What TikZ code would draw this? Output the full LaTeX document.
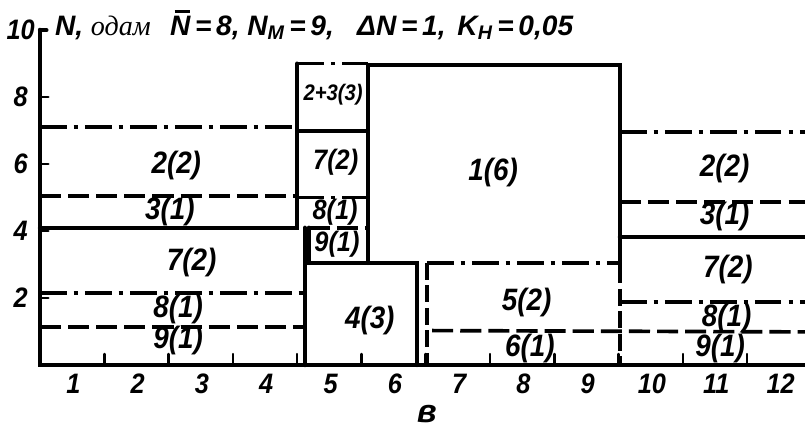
\documentclass[tikz,border=0pt]{standalone}
\usepackage{fontspec}
\setmainfont{Liberation Sans}
\newfontfamily\serifit{Liberation Serif}
\newfontfamily\lblfont{Liberation Sans}[FakeStretch=0.9]
% N with a bar over it
\newcommand{\Nbar}{\ooalign{N\cr\hidewidth\kern0.15em\rule[0.8em]{0.55em}{0.08em}\hidewidth\cr}}

\begin{document}
\begin{tikzpicture}[x=1.6075cm, y=0.8375cm,
    bold/.style={line width=3pt, line cap=round},
    dashln/.style={line width=2.6pt, dash pattern=on 15pt off 5pt},
    dotln/.style={line width=2.6pt, dash pattern=on 19pt off 5pt on 3pt off 5pt},
    vdash/.style={line width=2.6pt, dash pattern=on 12pt off 4pt},
    lbl/.style={font=\lblfont\fontsize{22}{22}\selectfont\bfseries\itshape, inner sep=0pt},
    mid/.style={font=\lblfont\fontsize{20}{20}\selectfont\bfseries\itshape, inner sep=0pt},
    sml/.style={font=\lblfont\fontsize{16}{16}\selectfont\bfseries\itshape, inner sep=0pt},
    axlbl/.style={font=\lblfont\fontsize{20}{20}\selectfont\bfseries\itshape, inner sep=0pt},
    ttl/.style={font=\fontsize{20}{20}\selectfont\bfseries\itshape, inner sep=0pt, anchor=base west}
]
\useasboundingbox (-0.622,-1.94) rectangle (11.90,10.90);

% axes
\draw[bold, line width=3.4pt] (0,10) -- (0,0) -- (11.9,0);
\draw[bold] (0,10) -- (0.1,10);
\foreach \y in {2,4,6,8}
  \draw[bold, line width=1.8pt] (0,\y) -- (0.13,\y);
\foreach \x in {1,...,11}
  \draw[bold, line width=1.8pt] (\x,0) -- (\x,0.33);
\foreach \y in {2,4,6,8,10}
  \node[axlbl] (y\y) at (-0.3,\y) {\y};
\foreach \x in {1,...,12}
  \node[axlbl] (x\x) at (\x-0.48,-0.55) {\x};
\node[axlbl, font=\fontsize{23}{23}\selectfont\bfseries\itshape] (xname) at (6.02,-1.45) {в};

% title
\node[ttl] (t1) at (0.23,9.85) {N, {\serifit\mdseries\itshape одам}};
\node[ttl] (t2) at (2.02,9.85) {\Nbar\,=\,8,};
\node[ttl] (t3) at (3.22,9.85) {N\textsubscript{М}\,=\,9,};
\node[ttl] (t4) at (4.93,9.85) {ΔN\,=\,1,};
\node[ttl] (t5) at (6.49,9.85) {K\textsubscript{Н}\,=\,0,05};

% left block
\draw[dotln] (0,7.1) -- (4.0,7.1);
\draw[dashln] (0,5.05) -- (4.0,5.05);
\draw[bold] (0,4.1) -- (4.0,4.1) -- (4.0,9.0);
\draw[bold] (4.12,4.1) -- (4.12,0);
\draw[dotln] (0,2.15) -- (4.12,2.15);
\draw[dashln] (0,1.13) -- (4.12,1.13);

% middle column
\draw[dotln] (4.0,9.0) -- (5.1,9.0);
\draw[bold] (4.0,7.0) -- (5.1,7.0);
\draw[dotln] (4.0,5.0) -- (5.1,5.0);
\draw[bold] (4.18,3.05) -- (4.18,4.1);
\draw[dashln] (4.18,4.1) -- (5.1,4.1);

% big box
\draw[bold] (5.1,3.05) -- (5.1,8.95) -- (9.02,8.95) -- (9.02,2.95);

% lower boxes
\draw[bold] (4.12,0) -- (4.12,3.05) -- (5.86,3.05) -- (5.86,0);
\draw[vdash] (6.02,3.05) -- (6.02,0);
\draw[dotln] (6.02,3.05) -- (9.02,3.05);
\draw[vdash] (9.02,2.95) -- (9.02,0);
\draw[dashln] (6.1,1.03) -- (11.9,0.99);

% right block
\draw[dotln] (9.02,6.95) -- (11.9,6.95);
\draw[dashln] (9.02,4.87) -- (11.9,4.87);
\draw[bold] (9.02,3.82) -- (11.9,3.82);
\draw[dotln] (9.02,1.88) -- (11.9,1.88);

% labels
\node[lbl] (a1) at (2.12,5.97) {2(2)};
\node[lbl] (a2) at (2.02,4.58) {3(1)};
\node[lbl] (a3) at (2.36,3.07) {7(2)};
\node[lbl] (a4) at (2.15,1.66) {8(1)};
\node[lbl] (a5) at (2.15,0.72) {9(1)};
\node[sml] (b1) at (4.56,8.06) {2+3(3)};
\node[mid] (b2) at (4.6,6.06) {7(2)};
\node[mid] (b3) at (4.59,4.55) {8(1)};
\node[mid] (b4) at (4.62,3.6) {9(1)};
\node[lbl] (c1) at (7.05,5.76) {1(6)};
\node[lbl] (c2) at (5.13,1.34) {4(3)};
\node[lbl] (c3) at (7.57,1.88) {5(2)};
\node[lbl] (c4) at (7.62,0.5) {6(1)};
\node[lbl] (d1) at (10.65,5.88) {2(2)};
\node[lbl] (d2) at (10.65,4.44) {3(1)};
\node[lbl] (d3) at (10.7,2.84) {7(2)};
\node[lbl] (d4) at (10.68,1.4) {8(1)};
\node[lbl] (d5) at (10.58,0.5) {9(1)};
\end{tikzpicture}
\end{document}
